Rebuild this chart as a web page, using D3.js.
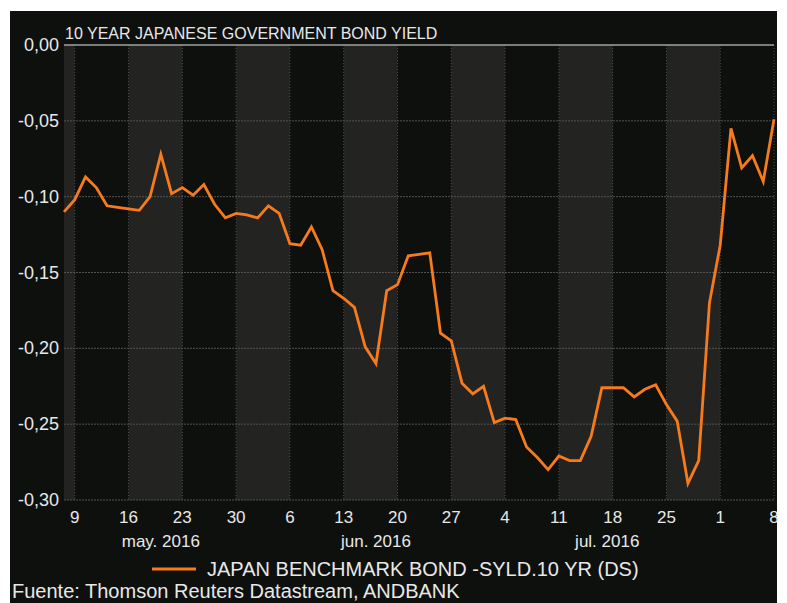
<!DOCTYPE html>
<html>
<head>
<meta charset="utf-8">
<script src="https://cdn.jsdelivr.net/npm/d3@7"></script>
<style>
  body { margin: 0; background: #ffffff; }
  text { font-family: "Liberation Sans", Arial, sans-serif; }
</style>
</head>
<body>
<div id="chart"></div>
<script>
// business days shown on the chart
const dates = [
    "2016-05-06",
    "2016-05-09", "2016-05-10", "2016-05-11", "2016-05-12", "2016-05-13",
    "2016-05-16", "2016-05-17", "2016-05-18", "2016-05-19", "2016-05-20",
    "2016-05-23", "2016-05-24", "2016-05-25", "2016-05-26", "2016-05-27",
    "2016-05-30", "2016-05-31", "2016-06-01", "2016-06-02", "2016-06-03",
    "2016-06-06", "2016-06-07", "2016-06-08", "2016-06-09", "2016-06-10",
    "2016-06-13", "2016-06-14", "2016-06-15", "2016-06-16", "2016-06-17",
    "2016-06-20", "2016-06-21", "2016-06-22", "2016-06-23", "2016-06-24",
    "2016-06-27", "2016-06-28", "2016-06-29", "2016-06-30", "2016-07-01",
    "2016-07-04", "2016-07-05", "2016-07-06", "2016-07-07", "2016-07-08",
    "2016-07-11", "2016-07-12", "2016-07-13", "2016-07-14", "2016-07-15",
    "2016-07-18", "2016-07-19", "2016-07-20", "2016-07-21", "2016-07-22",
    "2016-07-25", "2016-07-26", "2016-07-27", "2016-07-28", "2016-07-29",
    "2016-08-01", "2016-08-02", "2016-08-03", "2016-08-04", "2016-08-05",
    "2016-08-08"
];

const yields = [
    -0.110,
    -0.102, -0.087, -0.094, -0.106, -0.107,
    -0.108, -0.109, -0.100, -0.072, -0.098,
    -0.094, -0.099, -0.092, -0.105, -0.114,
    -0.111, -0.112, -0.114, -0.106, -0.111,
    -0.131, -0.132, -0.120, -0.135, -0.162,
    -0.167, -0.173, -0.199, -0.210, -0.162,
    -0.158, -0.139, -0.138, -0.137, -0.190,
    -0.195, -0.223, -0.230, -0.225, -0.249,
    -0.246, -0.247, -0.265, -0.272, -0.280,
    -0.271, -0.274, -0.274, -0.258, -0.226,
    -0.226, -0.226, -0.232, -0.227, -0.224,
    -0.237, -0.248, -0.289, -0.274, -0.170,
    -0.132, -0.055, -0.081, -0.073, -0.090,
    -0.049
];

// mondays that carry a tick
const tickDates = ["2016-05-09", "2016-05-16", "2016-05-23", "2016-05-30", "2016-06-06",
    "2016-06-13", "2016-06-20", "2016-06-27", "2016-07-04", "2016-07-11",
    "2016-07-18", "2016-07-25", "2016-08-01", "2016-08-08"];

const yTicks = [0, -0.05, -0.10, -0.15, -0.20, -0.25, -0.30];

const months = [
    { label: "may. 2016", from: "2016-05-06", to: "2016-06-01" },
    { label: "jun. 2016", from: "2016-06-01", to: "2016-07-01" },
    { label: "jul. 2016", from: "2016-07-01", to: "2016-08-01" }
];

const title = "10 YEAR JAPANESE GOVERNMENT BOND YIELD";
const seriesName = "JAPAN BENCHMARK BOND -SYLD.10 YR (DS)";
const source = "Fuente: Thomson Reuters Datastream, ANDBANK";

function main() {
    const canvasWidth = 787;
    const canvasHeight = 603;
    const left = 64, right = 774, top = 45, bottom = 500;
    const textColor = "#e8e8e8";

    const svg = d3.select("#chart").append("svg")
        .attr("width", canvasWidth)
        .attr("height", canvasHeight);

    // dark panel
    svg.append("rect")
        .attr("x", 10).attr("y", 11)
        .attr("width", 767).attr("height", canvasHeight - 11)
        .attr("fill", "#0e100e");

    const x = d3.scalePoint()
        .domain(dates)
        .range([left, right]);

    const y = d3.scaleLinear()
        .domain([-0.30, 0])
        .range([bottom, top]);

    // alternating week bands
    const edges = [left].concat(tickDates.map(d => x(d)));
    const bands = [];
    for (let i = 0; i < edges.length - 1; i++) {
        if (i % 2 === 0) bands.push([edges[i], edges[i + 1]]);
    }
    svg.append("g").selectAll("rect")
        .data(bands)
        .join("rect")
        .attr("x", d => d[0])
        .attr("y", top)
        .attr("width", d => d[1] - d[0])
        .attr("height", bottom - top)
        .attr("fill", "#232422");

    // grid
    svg.append("g").selectAll("line")
        .data(tickDates)
        .join("line")
        .attr("x1", d => x(d)).attr("x2", d => x(d))
        .attr("y1", top).attr("y2", bottom)
        .attr("stroke", "#4a4c4a")
        .attr("stroke-width", 1)
        .attr("stroke-dasharray", "1,2");

    svg.append("g").selectAll("line")
        .data(yTicks.filter(d => d !== 0))
        .join("line")
        .attr("x1", left).attr("x2", right)
        .attr("y1", d => y(d)).attr("y2", d => y(d))
        .attr("stroke", "#505250")
        .attr("stroke-width", 1)
        .attr("stroke-dasharray", "2,1");

    svg.append("line")
        .attr("x1", left).attr("x2", right)
        .attr("y1", top).attr("y2", top)
        .attr("stroke", "#a0a2a0")
        .attr("stroke-width", 1.5);

    // y labels
    const fmt = d => d3.format(".2f")(Math.abs(d)).replace(".", ",");
    svg.append("g").selectAll("text")
        .data(yTicks)
        .join("text")
        .attr("x", 59)
        .attr("y", d => y(d) + 6)
        .attr("text-anchor", "end")
        .attr("font-size", "18px")
        .attr("fill", textColor)
        .text(d => (d < 0 ? "-" : "") + fmt(d));

    // x labels
    svg.append("g").selectAll("text")
        .data(tickDates)
        .join("text")
        .attr("x", d => x(d))
        .attr("y", 523)
        .attr("text-anchor", "middle")
        .attr("font-size", "17px")
        .attr("fill", textColor)
        .text(d => +d.slice(8));

    svg.append("g").selectAll("text")
        .data(months)
        .join("text")
        .attr("x", d => (Math.max(left, x(d.from)) + x(d.to)) / 2)
        .attr("y", 547)
        .attr("text-anchor", "middle")
        .attr("font-size", "17px")
        .attr("fill", textColor)
        .text(d => d.label);

    // title
    svg.append("text")
        .attr("x", 65)
        .attr("y", 39)
        .attr("font-size", "16px")
        .attr("fill", textColor)
        .text(title);

    // the series
    const line = d3.line()
        .x((d, i) => x(dates[i]))
        .y(d => y(d));

    svg.append("path")
        .datum(yields)
        .attr("fill", "none")
        .attr("stroke", "#f77b1c")
        .attr("stroke-width", 2.8)
        .attr("d", line);

    // legend
    svg.append("line")
        .attr("x1", 152).attr("x2", 196)
        .attr("y1", 569).attr("y2", 569)
        .attr("stroke", "#f77b1c")
        .attr("stroke-width", 2.8);

    svg.append("text")
        .attr("x", 207)
        .attr("y", 576)
        .attr("font-size", "20px")
        .attr("fill", textColor)
        .text(seriesName);

    svg.append("text")
        .attr("x", 12)
        .attr("y", 598)
        .attr("font-size", "20px")
        .attr("fill", textColor)
        .text(source);
}
main();
</script>
</body>
</html>
